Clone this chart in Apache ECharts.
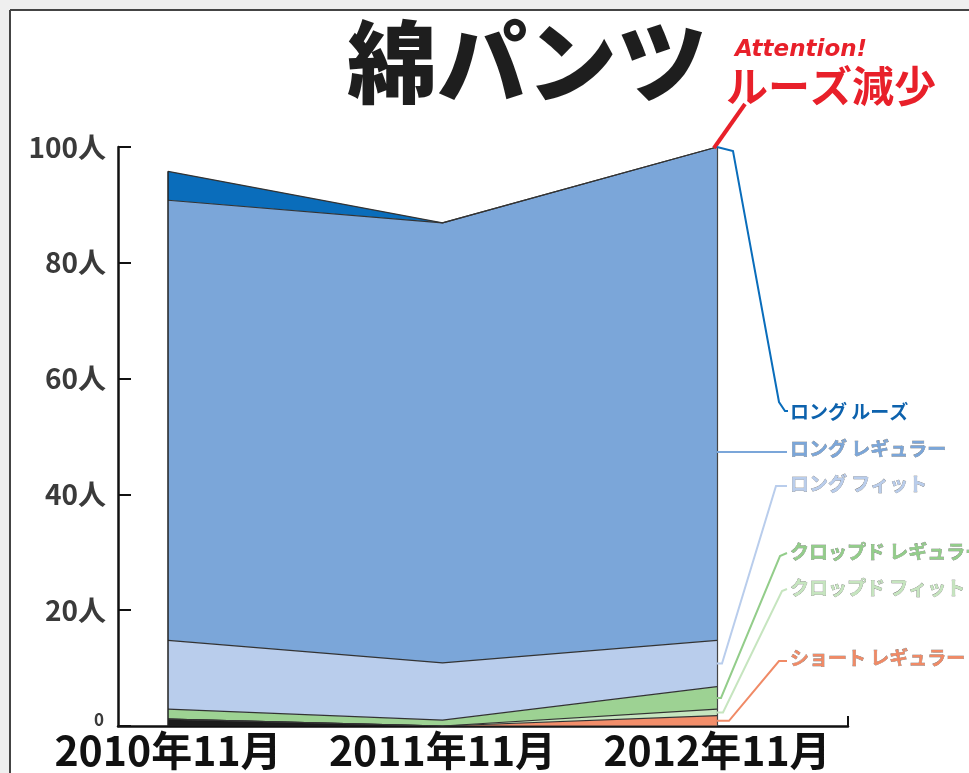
<!DOCTYPE html>
<html><head><meta charset="utf-8">
<script src="https://cdn.jsdelivr.net/npm/echarts@6/dist/echarts.min.js"></script>
<style>html,body{margin:0;padding:0;background:#fff}#c{width:969px;height:773px}</style>
</head><body><div id="c"></div>
<script>
var categories = ['2010年11月', '2011年11月', '2012年11月'];
var yTicks = [0, 20, 40, 60, 80, 100];
// stacked from bottom to top
var otherDark      = [1.2, 0, 0];
var shortRegular   = [0, 0, 1.8];
var croppedFit     = [0, 0, 1.1];
var croppedRegular = [1.7, 1.0, 3.9];
var longFit        = [11.9, 9.9, 8.0];
var longRegular    = [76, 76, 85.2];
var longLoose      = [5, 0, 0];

var seriesNames = ['', 'ショート レギュラー', 'クロップド フィット', 'クロップド レギュラー', 'ロング フィット', 'ロング レギュラー', 'ロング ルーズ'];
var seriesData = [otherDark, shortRegular, croppedFit, croppedRegular, longFit, longRegular, longLoose];
var colors = ['#1c1c1c', '#f28e6a', '#c6e5bf', '#9dd293', '#b9cdec', '#7ba6d9', '#0a6dbb'];

var totals = categories.map(function (c, i) {
  return seriesData.reduce(function (s, arr) { return s + arr[i]; }, 0);
});

var chart = echarts.init(document.getElementById('c'));
var FONT = '"Noto Sans CJK JP", "Noto Sans", sans-serif';

var series = seriesData.map(function (arr, k) {
  return {
    name: seriesNames[k],
    type: 'line',
    stack: 'all',
    symbol: 'none',
    xAxisIndex: 0, yAxisIndex: 0,
    data: arr,
    lineStyle: { color: '#333', width: 1.2 },
    areaStyle: { color: colors[k], opacity: 1 },
    z: 2
  };
});
series.push({
  type: 'line', data: [], symbol: 'none', silent: true,
  xAxisIndex: 0, yAxisIndex: 0,
  markLine: {
    symbol: 'none', silent: true, label: { show: false },
    lineStyle: { color: '#222', width: 1.5, type: 'solid' },
    data: [
      [{ coord: [0, 0] }, { coord: [0, totals[0]] }],
      [{ coord: [2, 0] }, { coord: [2, totals[2]], lineStyle: { color: '#444', width: 1.2 } }]
    ]
  }
});

chart.setOption({
  animation: false,
  backgroundColor: '#fff',
  grid: [
    { left: 168, right: 252, top: 147, bottom: 47 },
    { left: 118, right: 121, top: 147, bottom: 47 }
  ],
  xAxis: [
    {
      gridIndex: 0, type: 'category', data: categories, boundaryGap: false,
      axisLine: { show: false }, axisTick: { show: false }, splitLine: { show: false },
      axisLabel: { interval: 0, hideOverlap: false, fontFamily: FONT, fontWeight: 'bold', fontSize: 41, color: '#111', margin: 4 }
    },
    {
      gridIndex: 1, type: 'value', min: 0, max: 10,
      splitLine: { show: false }, axisLabel: { show: false },
      axisLine: { show: true, lineStyle: { color: '#111', width: 2.5 } },
      axisTick: { show: true, inside: true, length: 10, customValues: [10], lineStyle: { color: '#111', width: 2 } }
    }
  ],
  yAxis: [
    {
      gridIndex: 0, type: 'value', min: 0, max: 100, show: false
    },
    {
      gridIndex: 1, type: 'value', min: 0, max: 100, interval: 20,
      splitLine: { show: false },
      axisLine: { show: true, onZero: false, lineStyle: { color: '#111', width: 2.5 } },
      axisTick: { show: true, inside: true, length: 13, lineStyle: { color: '#111', width: 2 } },
      axisLabel: {
        margin: 12,
        formatter: function (v) { return v === 0 ? '{z|0}' : v + '人'; },
        fontFamily: FONT, fontWeight: 'bold', fontSize: 28, color: '#3a3a3a',
        rich: { z: { fontFamily: FONT, fontWeight: 'bold', fontSize: 17, color: '#3a3a3a', padding: [0, 2, 12, 0] } }
      }
    }
  ],
  series: series
});

function px(x, y) { return chart.convertToPixel({ xAxisIndex: 0, yAxisIndex: 0 }, [x, y]); }
var topR = px(2, totals[2]);
var cum = [];
var acc = 0;
for (var k = 0; k < seriesData.length; k++) { acc += seriesData[k][2]; cum.push(acc); }
function mid(k) { return px(2, cum[k] - seriesData[k][2] / 2); }

var labelX = 790;
var labels = [
  { t: 'ロング ルーズ', c: '#0d62ad', y: 412, bw: 0, line: '#0a6dbb', pts: function () { return [topR, [733, topR[1] + 4], [779, 402], [785, 411], [788, 411]]; } },
  { t: 'ロング レギュラー', c: '#7ba6d9', y: 449, bw: 1, line: '#7ba6d9', pts: function () { return [[topR[0], 452], [787, 452]]; } },
  { t: 'ロング フィット', c: '#b9cdec', y: 484, bw: 1, line: '#b9cdec', pts: function () { var p = mid(4); return [[p[0], p[1]], [p[0] + 5, p[1]], [776, 486], [787, 486]]; } },
  { t: 'クロップド レギュラー', c: '#93cd8a', y: 552, bw: 1, line: '#93cd8a', pts: function () { var p = mid(3); return [[p[0], p[1]], [p[0] + 4, p[1]], [780, 556], [787, 553]]; } },
  { t: 'クロップド フィット', c: '#c6e5bf', y: 588, bw: 1, line: '#c6e5bf', pts: function () { var p = mid(2); return [[p[0], p[1]], [p[0] + 6, p[1]], [782, 591], [787, 589]]; } },
  { t: 'ショート レギュラー', c: '#f08a66', y: 658, bw: 1, line: '#f08a66', pts: function () { var p = mid(1); return [[p[0], p[1]], [p[0] + 12, p[1]], [779, 661], [787, 661]]; } }
];

var graphics = [
  { type: 'rect', shape: { x: 0, y: 0, width: 10, height: 773 }, style: { fill: '#efefef' }, z: 0 },
  { type: 'rect', shape: { x: 0, y: 0, width: 969, height: 10 }, style: { fill: '#efefef' }, z: 0 },
  { type: 'line', shape: { x1: 10, y1: 10, x2: 10, y2: 773 }, style: { stroke: '#444', lineWidth: 2 }, z: 1 },
  { type: 'line', shape: { x1: 10, y1: 10, x2: 969, y2: 10 }, style: { stroke: '#444', lineWidth: 2 }, z: 1 },
  { type: 'text', x: 527, y: 62, style: { text: '綿パンツ', font: '900 90px ' + FONT, fill: '#1e1e1e', align: 'center', verticalAlign: 'middle' }, z: 10 },
  { type: 'text', x: 735, y: 50, style: { text: 'Attention!', font: 'italic bold 23px "DejaVu Sans", sans-serif', fill: '#e8202a', align: 'left', verticalAlign: 'middle' }, z: 10 },
  { type: 'text', x: 726, y: 86, style: { text: 'ルーズ減少', font: 'bold 42px ' + FONT, fill: '#e8202a', align: 'left', verticalAlign: 'middle' }, z: 10 },
  { type: 'line', shape: { x1: 745, y1: 104, x2: topR[0] - 3, y2: topR[1] + 1 }, style: { stroke: '#e8202a', lineWidth: 4 }, z: 10 }
];
labels.forEach(function (l) {
  graphics.push({ type: 'polyline', shape: { points: l.pts() }, style: { stroke: l.line, lineWidth: 2, fill: null }, z: 10 });
  graphics.push({ type: 'text', x: labelX, y: l.y, style: { text: l.t, font: 'bold 19px ' + FONT, fill: l.c, stroke: l.bw ? '#6a6a6a' : null, lineWidth: l.bw ? 0.5 : 0, align: 'left', verticalAlign: 'middle' }, z: 10 });
});
chart.setOption({ graphic: graphics });
</script></body></html>
